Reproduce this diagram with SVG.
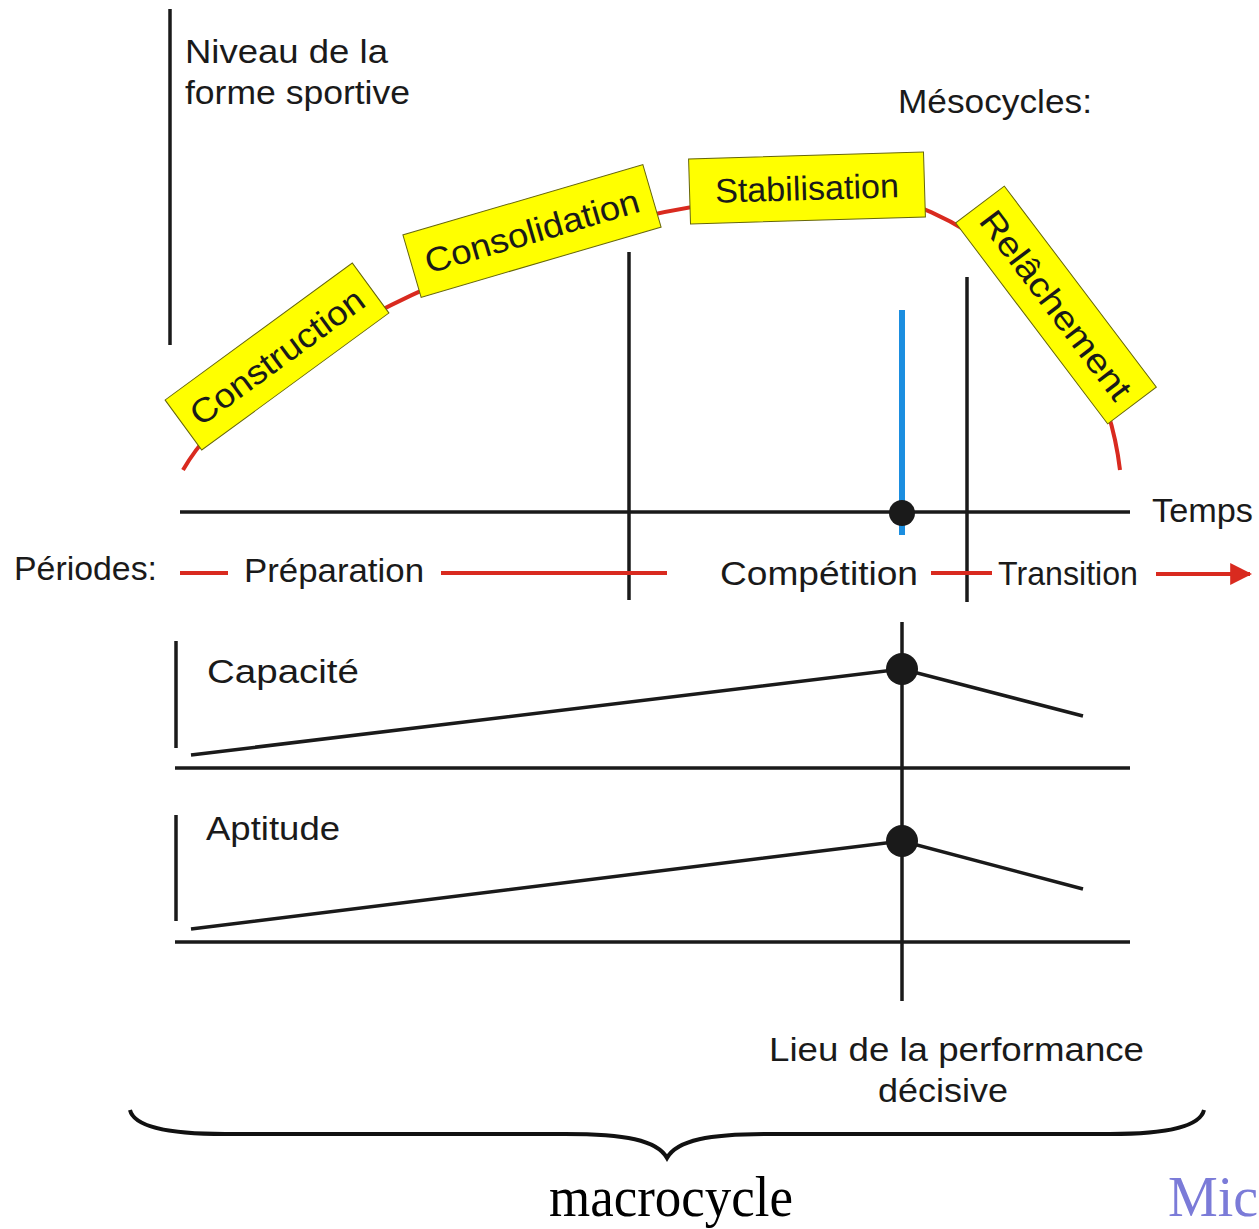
<svg xmlns="http://www.w3.org/2000/svg" width="1259" height="1229" viewBox="0 0 1259 1229">
<style>
text{font-family:"Liberation Sans","DejaVu Sans",Arial,sans-serif;fill:#1a1a1a;}
.lbl{font-size:34px;}
.box rect{fill:#ffff00;stroke:#66660a;stroke-width:1;}
.box text{font-size:34px;text-anchor:middle;}
.blk{stroke:#1a1a1a;stroke-width:3.5;fill:none;stroke-linecap:butt;}
.red{stroke:#d92a1f;stroke-width:4;fill:none;}
.serif{font-family:"Liberation Serif","Times New Roman",serif;font-size:56px;}
</style>
<defs>
<marker id="arr" viewBox="0 0 10 10" refX="9" refY="5" markerWidth="5.5" markerHeight="5.5" orient="auto" markerUnits="strokeWidth">
<path d="M0,0 L10,5 L0,10 z" fill="#d92a1f"/>
</marker>
</defs>
<rect width="1259" height="1229" fill="#ffffff"/>

<g id="connectors">
<path class="red" d="M183,470 C255,345 560,193 850,193 C950,193 1100,300 1120,470"/>
<line class="blk" x1="170" y1="9" x2="170" y2="345"/>
<line class="blk" x1="180" y1="512" x2="1130" y2="512"/>
<line class="blk" x1="629" y1="252" x2="629" y2="600"/>
<line class="blk" x1="967" y1="277" x2="967" y2="602"/>
<line x1="902" y1="310" x2="902" y2="535" stroke="#1b8ee0" stroke-width="6"/>
<circle cx="902" cy="513" r="13" fill="#1a1a1a"/>
<line class="red" x1="180" y1="573" x2="228" y2="573"/>
<line class="red" x1="441" y1="573" x2="667" y2="573"/>
<line class="red" x1="931" y1="573" x2="992" y2="573"/>
<line class="red" x1="1156" y1="574" x2="1250" y2="574" stroke-width="3.5" marker-end="url(#arr)"/>
<line class="blk" x1="176" y1="641" x2="176" y2="748"/>
<line class="blk" x1="175" y1="768" x2="1130" y2="768"/>
<polyline class="blk" points="191,755 902,669 1083,716"/>
<line class="blk" x1="176" y1="815" x2="176" y2="921"/>
<line class="blk" x1="175" y1="942" x2="1130" y2="942"/>
<polyline class="blk" points="191,929 902,841 1083,889"/>
<line class="blk" x1="902" y1="622" x2="902" y2="1001"/>
<circle cx="902" cy="669" r="16" fill="#1a1a1a"/>
<circle cx="902" cy="841" r="16" fill="#1a1a1a"/>
<path d="M130,1110 C134,1127 170,1134 225,1134 L565,1134 C625,1134 657,1140 667,1158 C677,1140 709,1134 769,1134 L1110,1134 C1165,1134 1200,1127 1204,1110" fill="none" stroke="#111" stroke-width="4"/>
</g>

<g id="axis-label">
<text class="lbl" x="185" y="63" textLength="203" lengthAdjust="spacingAndGlyphs">Niveau de la</text>
<text class="lbl" x="185" y="104" textLength="225" lengthAdjust="spacingAndGlyphs">forme sportive</text>
</g>
<g id="mesocycles-label"><text class="lbl" x="898" y="113" textLength="194" lengthAdjust="spacingAndGlyphs">Mésocycles:</text></g>

<g id="construction" class="box" transform="translate(277,356.5) rotate(-36.2)">
<rect x="-116" y="-31" width="232" height="62"/>
<text x="0" y="12" textLength="207" lengthAdjust="spacingAndGlyphs">Construction</text>
</g>
<g id="consolidation" class="box" transform="translate(532,231) rotate(-16.3)">
<rect x="-125" y="-32.5" width="250" height="65"/>
<text x="0" y="12" textLength="222" lengthAdjust="spacingAndGlyphs">Consolidation</text>
</g>
<g id="stabilisation" class="box" transform="translate(807,188) rotate(-1.7)">
<rect x="-117.5" y="-32.5" width="235" height="65"/>
<text x="0" y="12" textLength="184" lengthAdjust="spacingAndGlyphs">Stabilisation</text>
</g>
<g id="relachement" class="box" transform="translate(1056,305) rotate(52.9)">
<rect x="-126" y="-30.5" width="252" height="61"/>
<text x="0" y="12" textLength="228" lengthAdjust="spacingAndGlyphs">Relâchement</text>
</g>

<g id="temps"><text class="lbl" x="1152" y="522" textLength="101" lengthAdjust="spacingAndGlyphs">Temps</text></g>
<g id="periodes"><text class="lbl" x="14" y="580" textLength="143" lengthAdjust="spacingAndGlyphs">Périodes:</text></g>
<g id="preparation"><text class="lbl" x="244" y="582" textLength="180" lengthAdjust="spacingAndGlyphs">Préparation</text></g>
<g id="competition"><text class="lbl" x="720" y="585" textLength="198" lengthAdjust="spacingAndGlyphs">Compétition</text></g>
<g id="transition"><text class="lbl" x="998" y="585" textLength="140" lengthAdjust="spacingAndGlyphs">Transition</text></g>
<g id="capacite"><text class="lbl" x="207" y="683" textLength="152" lengthAdjust="spacingAndGlyphs">Capacité</text></g>
<g id="aptitude"><text class="lbl" x="206" y="840" textLength="134" lengthAdjust="spacingAndGlyphs">Aptitude</text></g>
<g id="lieu">
<text class="lbl" x="769" y="1061" textLength="375" lengthAdjust="spacingAndGlyphs">Lieu de la performance</text>
<text class="lbl" x="878" y="1102" textLength="130" lengthAdjust="spacingAndGlyphs">décisive</text>
</g>
<g id="macrocycle"><text class="serif" x="549" y="1216" textLength="244" lengthAdjust="spacingAndGlyphs" style="fill:#000">macrocycle</text></g>
<g id="mic"><text class="serif" x="1168" y="1216" style="fill:#7b7bd8">Mic</text></g>
</svg>
